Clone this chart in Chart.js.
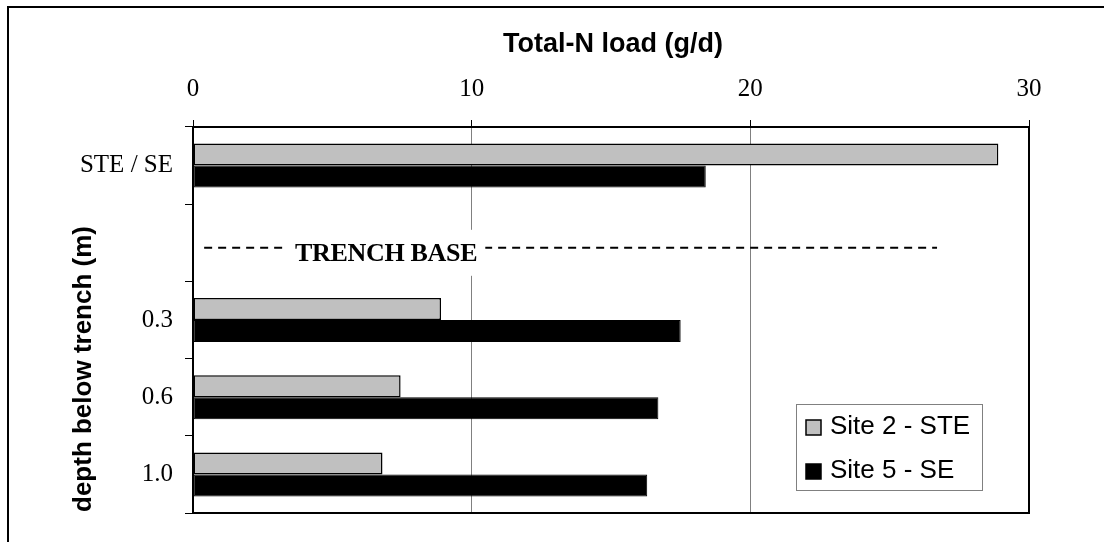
<!DOCTYPE html>
<html>
<head>
<meta charset="utf-8">
<script src="https://cdn.jsdelivr.net/npm/chart.js@4.4.0/dist/chart.umd.min.js"></script>
<style>
  body { margin: 0; background: #fff; }
  #wrap { width: 1104px; height: 542px; position: relative; }
</style>
</head>
<body>
<div id="wrap"><canvas id="theChart" width="1104" height="542"></canvas></div>
<script>
// depth categories (the blank one holds the trench base marker)
const depths = ['STE / SE', '', '0.3', '0.6', '1.0'];
const site2STE = [28.9, null, 8.9, 7.45, 6.8];
const site5SE = [18.4, null, 17.5, 16.7, 16.3];
const xTicks = [0, 10, 20, 30];
const xTitle = 'Total-N load (g/d)';
const yTitle = 'depth below trench (m)';
const markerText = 'TRENCH BASE';

const serif = '"Liberation Serif", "Times New Roman", serif';
const sans = '"Liberation Sans", Arial, sans-serif';

// frame, titles, trench base line, legend box
const extras = {
  id: 'extras',
  beforeDraw(chart) {
    const c = chart.ctx;
    c.save();
    c.fillStyle = '#fff';
    c.fillRect(0, 0, chart.width, chart.height);
    c.strokeStyle = '#000';
    c.lineWidth = 2;
    c.strokeRect(8, 7, chart.width + 20, chart.height + 20);
    c.restore();
  },
  afterDraw(chart) {
    const c = chart.ctx;
    const area = chart.chartArea;
    const x = chart.scales.x;
    const y = chart.scales.y;
    c.save();

    // plot frame
    c.strokeStyle = '#000';
    c.lineWidth = 2;
    c.strokeRect(area.left, area.top, area.right - area.left, area.bottom - area.top);

    // axis titles
    c.fillStyle = '#000';
    c.font = 'bold 27px ' + sans;
    c.textAlign = 'center';
    c.textBaseline = 'middle';
    c.fillText(xTitle, (area.left + area.right) / 2 + 2, 45);
    c.font = 'bold 26px ' + sans;
    c.save();
    c.translate(84, area.bottom - 144);
    c.rotate(-Math.PI / 2);
    c.fillText(yTitle, 0, 0);
    c.restore();

    // trench base marker
    const ly = y.getPixelForValue(1) + 5;
    c.setLineDash([8, 6]);
    c.lineWidth = 2;
    c.beginPath();
    c.moveTo(x.getPixelForValue(0.4), ly);
    c.lineTo(x.getPixelForValue(26.7), ly);
    c.stroke();
    c.setLineDash([]);
    const tx = x.getPixelForValue(6.93);
    c.font = 'bold 26px ' + serif;
    c.letterSpacing = '-0.3px';
    const w = c.measureText(markerText).width;
    c.fillStyle = '#fff';
    c.fillRect(tx - w / 2 - 8, ly - 18, w + 16, 46);
    c.fillStyle = '#000';
    c.textBaseline = 'alphabetic';
    c.fillText(markerText, tx, ly + 13);
    c.letterSpacing = '0px';

    // legend
    const bx = area.right - 233, by = area.bottom - 109;
    c.fillStyle = '#fff';
    c.fillRect(bx, by, 186, 86);
    c.strokeStyle = '#808080';
    c.lineWidth = 1;
    c.strokeRect(bx + 0.5, by + 0.5, 186, 86);
    c.font = '26px ' + sans;
    c.textAlign = 'left';
    c.textBaseline = 'middle';
    chart.data.datasets.forEach((ds, i) => {
      const cy = by + 23 + i * 44;
      c.fillStyle = ds.backgroundColor;
      c.fillRect(bx + 10, cy - 7, 15, 15);
      c.strokeStyle = '#000';
      c.lineWidth = 1.5;
      c.strokeRect(bx + 10, cy - 7, 15, 15);
      c.fillStyle = '#000';
      c.fillText(ds.label, bx + 34, cy);
    });
    c.restore();
  }
};

new Chart(document.getElementById('theChart'), {
  type: 'bar',
  data: {
    labels: depths,
    datasets: [{
      label: 'Site 2 - STE',
      data: site2STE,
      backgroundColor: '#c0c0c0',
      borderColor: '#000',
      borderWidth: 1.5,
      borderSkipped: false,
      categoryPercentage: 0.57,
      barPercentage: 1.0
    }, {
      label: 'Site 5 - SE',
      data: site5SE,
      backgroundColor: '#000',
      borderColor: '#000',
      borderWidth: 1,
      borderSkipped: false,
      categoryPercentage: 0.57,
      barPercentage: 1.0
    }]
  },
  options: {
    indexAxis: 'y',
    responsive: false,
    animation: false,
    devicePixelRatio: 1,
    layout: { padding: { left: 0, top: 0, right: 75, bottom: 29 } },
    plugins: { legend: { display: false }, tooltip: { enabled: false } },
    scales: {
      x: {
        position: 'top',
        min: 0,
        max: 30,
        afterFit(s) { s.height = 127; },
        afterBuildTicks(s) { s.ticks = xTicks.map(v => ({ value: v })); },
        ticks: { color: '#000', padding: 16, font: { family: serif, size: 25 } },
        grid: {
          color: ctx => (ctx.tick && ctx.tick.value > 0 && ctx.tick.value < 30) ? '#808080' : '#000',
          tickColor: '#000',
          tickLength: 7,
          lineWidth: 1
        },
        border: { color: '#000', width: 2 }
      },
      y: {
        afterFit(s) { s.width = 193; },
        ticks: { color: '#000', padding: 12, font: { family: serif, size: 25 } },
        grid: { drawOnChartArea: false, offset: true, tickColor: '#000', tickLength: 8 },
        border: { color: '#000', width: 2 }
      }
    }
  },
  plugins: [extras]
});
</script>
</body>
</html>
